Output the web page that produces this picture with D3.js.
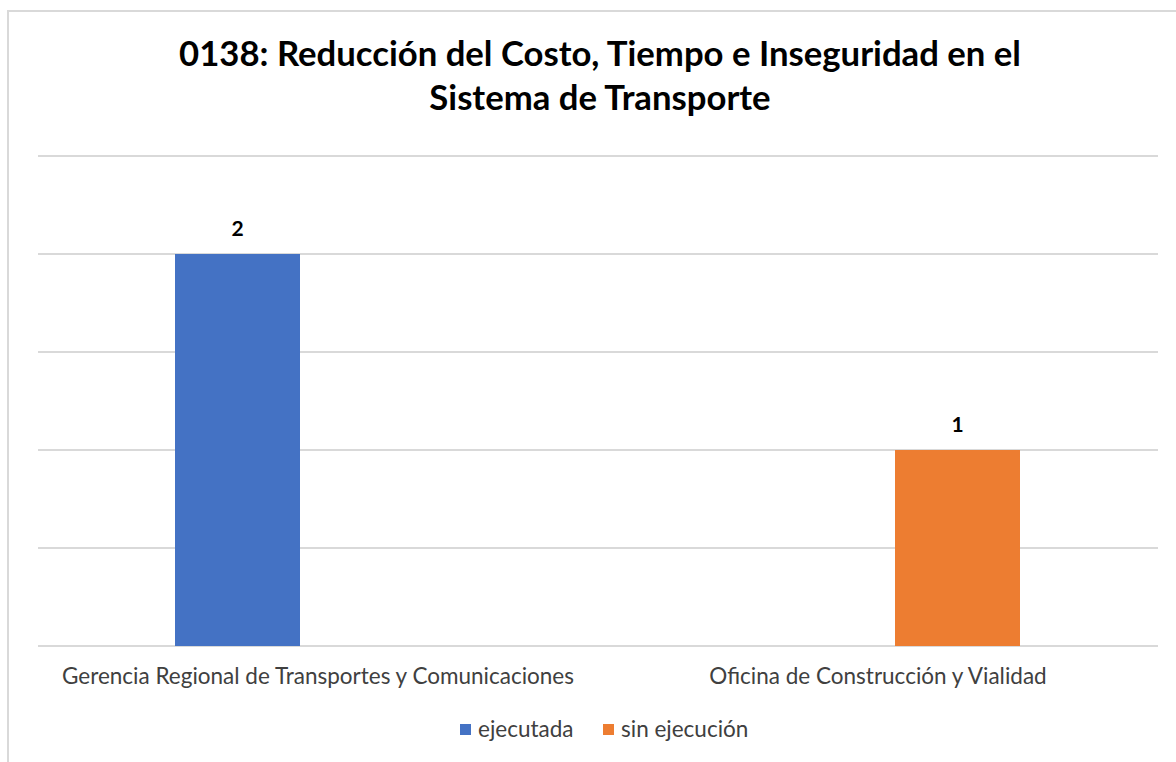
<!DOCTYPE html>
<html>
<head>
<meta charset="utf-8">
<script src="https://cdn.jsdelivr.net/npm/d3@7"></script>
<style>
  html, body { margin: 0; padding: 0; background: #fff; }
  svg { display: block; }
</style>
</head>
<body>
<svg id="chart" width="1176" height="762"></svg>
<script>
const titleLines = ["0138: Reducción del Costo, Tiempo e Inseguridad en el", "Sistema de Transporte"];
const categories = ["Gerencia Regional de Transportes y Comunicaciones", "Oficina de Construcción y Vialidad"];
const seriesNames = ["ejecutada", "sin ejecución"];
const ejecutada = [2, 0];
const sinEjecucion = [0, 1];
const yTicks = [0, 0.5, 1, 1.5, 2, 2.5];
const colors = ["#4472C4", "#ED7D31"];

const font = "Lato, 'Open Sans', sans-serif";
const svg = d3.select("#chart");
const W = 1176, H = 762;

// outer chart border
svg.append("rect").attr("x", 8).attr("y", 11).attr("width", W).attr("height", H)
  .attr("fill", "#fff").attr("stroke", "#d9d9d9").attr("stroke-width", 2);

const plot = { left: 38, right: 1158, top: 156, bottom: 646 };

const y = d3.scaleLinear().domain([0, 2.5]).range([plot.bottom, plot.top]);
const xLab = d3.scaleBand().domain(categories).range([plot.left, plot.right]);
const xBar = d3.scaleBand().domain(categories).range([2.5, 1192.5]);
const x1 = d3.scaleBand().domain(seriesNames).range([-125, 125]);

// gridlines
svg.append("g").selectAll("line").data(yTicks).join("line")
  .attr("x1", plot.left).attr("x2", plot.right)
  .attr("y1", d => y(d)).attr("y2", d => y(d))
  .attr("stroke", "#d9d9d9").attr("stroke-width", 2);

// title
svg.append("g").selectAll("text").data(titleLines).join("text")
  .attr("x", 600).attr("y", (d, i) => 66 + i * 44)
  .attr("text-anchor", "middle")
  .attr("font-family", font).attr("font-weight", "bold")
  .attr("font-size", 34.7).attr("fill", "#000")
  .text(d => d);

// bars
const seriesData = [ejecutada, sinEjecucion];
const barData = [];
categories.forEach((c, ci) => {
  seriesNames.forEach((s, si) => {
    barData.push({ c, s, si, v: seriesData[si][ci] });
  });
});
const cx = c => xBar(c) + xBar.bandwidth() / 2;

svg.append("g").selectAll("rect").data(barData.filter(d => d.v > 0)).join("rect")
  .attr("x", d => cx(d.c) + x1(d.s))
  .attr("width", x1.bandwidth())
  .attr("y", d => y(d.v))
  .attr("height", d => y(0) - y(d.v))
  .attr("fill", d => colors[d.si]);

// data labels
svg.append("g").selectAll("text").data(barData.filter(d => d.v > 0)).join("text")
  .attr("x", d => cx(d.c) + x1(d.s) + x1.bandwidth() / 2)
  .attr("y", d => y(d.v) - 18)
  .attr("text-anchor", "middle")
  .attr("font-family", font).attr("font-weight", "bold")
  .attr("font-size", 21).attr("fill", "#000")
  .text(d => d.v);

// category labels
svg.append("g").selectAll("text").data(categories).join("text")
  .attr("x", d => xLab(d) + xLab.bandwidth() / 2)
  .attr("y", 684)
  .attr("text-anchor", "middle")
  .attr("font-family", font).attr("font-size", 22.5).attr("fill", "#404040")
  .text(d => d);

// legend
const legendX = [460, 603];
const lg = svg.append("g").selectAll("g").data(seriesNames).join("g")
  .attr("transform", (d, i) => `translate(${legendX[i]},724)`);
lg.append("rect").attr("width", 11).attr("height", 11).attr("fill", (d, i) => colors[i]);
lg.append("text").attr("x", 18).attr("y", 13)
  .attr("font-family", font).attr("font-size", 22.5).attr("fill", "#404040")
  .text(d => d);
</script>
</body>
</html>
